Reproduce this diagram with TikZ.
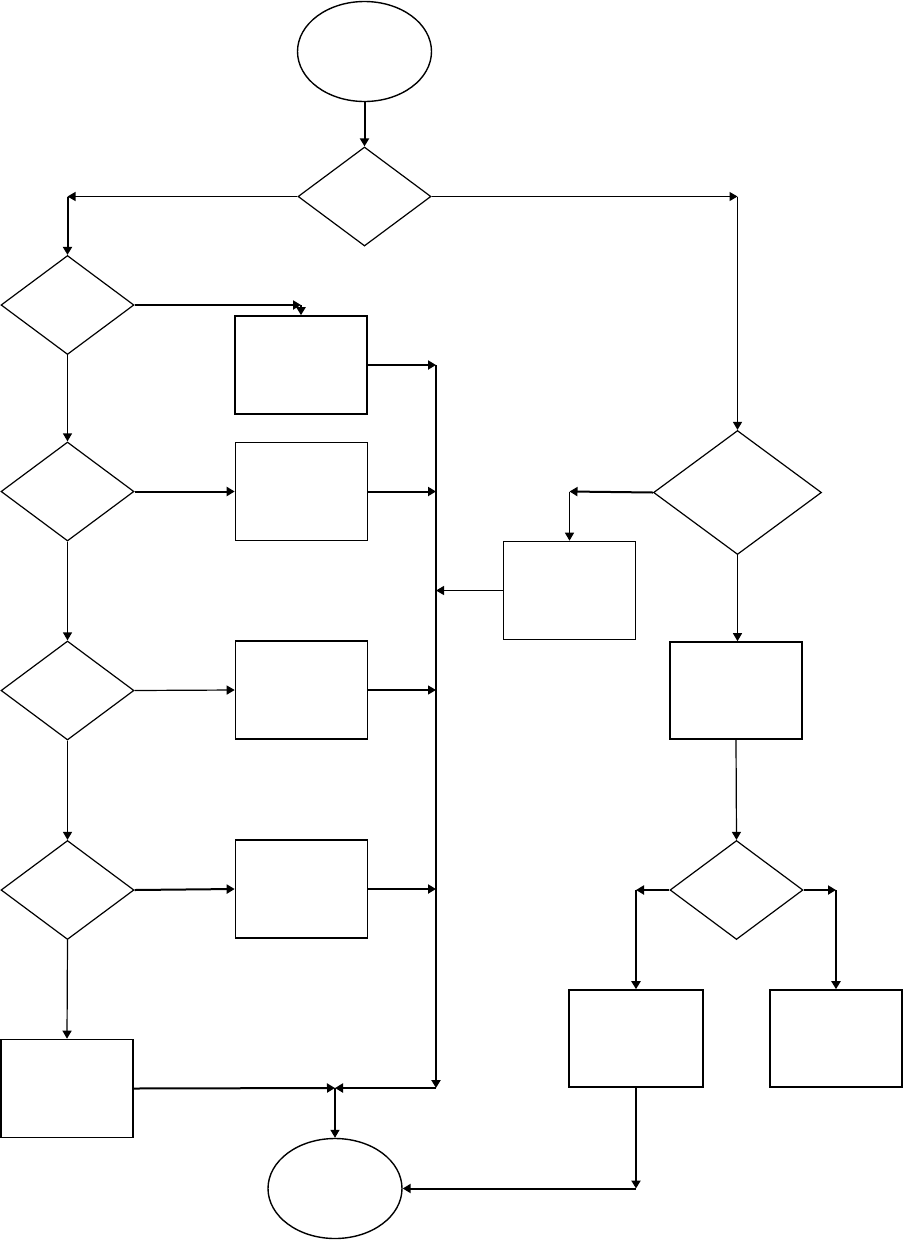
\documentclass[tikz,border=0pt]{standalone}
\usetikzlibrary{arrows.meta,shapes.geometric}
\begin{document}
\begin{tikzpicture}[x=1pt,y=-1pt,>={Triangle[length=8pt,width=9pt]},
  decision/.style={draw,diamond,minimum width=133pt,minimum height=99pt,inner sep=0pt,line width=1.2pt},
  process/.style={draw,rectangle,minimum width=132pt,minimum height=98pt,inner sep=0pt,line width=1.6pt},
  terminal/.style={draw,ellipse,minimum width=134pt,minimum height=100pt,inner sep=0pt,line width=1.4pt},
  thinflow/.style={->,line width=1.2pt},
  thickflow/.style={->,line width=2pt}]
\useasboundingbox (0,0) rectangle (903,1240);
% terminals
\node[terminal] (start) at (364.5,51.5) {};
\node[terminal] (stop) at (335,1188.5) {};
% main decision
\node[decision] (d0) at (364.5,196.5) {};
% left column
\node[decision] (d1) at (67.5,305) {};
\node[decision] (d2) at (67.5,491.5) {};
\node[decision] (d3) at (67.5,690.5) {};
\node[decision] (d4) at (67.5,890) {};
\node[process] (b1) at (301,365) {};
\node[process] (b2) at (301.5,491.5) {};
\node[process] (b3) at (301.5,690) {};
\node[process] (b4) at (301.5,889) {};
\node[process] (b5) at (67,1088.5) {};
% right column
\node[decision,minimum width=168pt,minimum height=124pt] (dr) at (737.5,492.5) {};
\node[process] (b7) at (569.5,590.5) {};
\node[process,minimum height=97pt] (b8) at (736,690.5) {};
\node[decision] (d5) at (736.5,890) {};
\node[process,minimum width=134pt,minimum height=97pt] (b6) at (636,1038.5) {};
\node[process,minimum height=97pt] (b9) at (836,1038.5) {};
% corners
\coordinate (cl) at (67.5,196.5);
\coordinate (cr) at (737.5,196.5);
\coordinate (c1) at (301,305);
\coordinate (bustop) at (436,365);
\coordinate (bus2) at (436,491.5);
\coordinate (bus7) at (436,590.5);
\coordinate (bus3) at (436,690);
\coordinate (bus4) at (436,889);
\coordinate (busbot) at (436,1088);
\coordinate (merge) at (335,1088);
\coordinate (c7) at (569.5,491.5);
\coordinate (c6) at (636,890);
\coordinate (c9) at (836,890);
\coordinate (c6b) at (636,1188.5);
% connectors
\draw[thickflow] (start) -- (d0);
\draw[thinflow] (d0.west) -- (cl);
\draw[thickflow] (cl) -- (d1.north);
\draw[thinflow] (d0.east) -- (cr);
\draw[thinflow] (cr) -- (dr.north);
\draw[thickflow] (d1.east) -- (c1);
\draw[thickflow] (c1) -- (b1.north);
\draw[thinflow] (d1.south) -- (d2.north);
\draw[thinflow] (d2.south) -- (d3.north);
\draw[thinflow] (d3.south) -- (d4.north);
\draw[thinflow] (d4.south) -- (b5.north);
\draw[thickflow] (d2.east) -- (b2.west);
\draw[thinflow] (d3.east) -- (b3.west);
\draw[thickflow] (d4.east) -- (b4.west);
\draw[thickflow] (b1.east) -- (bustop);
\draw[thickflow] (b2.east) -- (bus2);
\draw[thinflow] (b3.east) -- (bus3);
\draw[thickflow] (b4.east) -- (bus4);
\draw[thickflow] (bustop) -- (busbot);
\draw[thickflow] (busbot) -- (merge);
\draw[thickflow] (b5.east) -- (merge);
\draw[thinflow] (merge) -- (stop.north);
\draw[thickflow] (dr.west) -- (c7);
\draw[thinflow] (c7) -- (b7.north);
\draw[thinflow] (b7.west) -- (bus7);
\draw[thinflow] (dr.south) -- (b8.north -| dr.south);
\draw[thinflow] (b8.south) -- (d5.north);
\draw[thickflow] (d5.west) -- (c6);
\draw[thickflow] (c6) -- (b6.north);
\draw[thickflow] (d5.east) -- (c9);
\draw[thickflow] (c9) -- (b9.north);
\draw[thickflow] (b6.south) -- (c6b);
\draw[thickflow] (c6b) -- (stop.east);
\end{tikzpicture}
\end{document}
